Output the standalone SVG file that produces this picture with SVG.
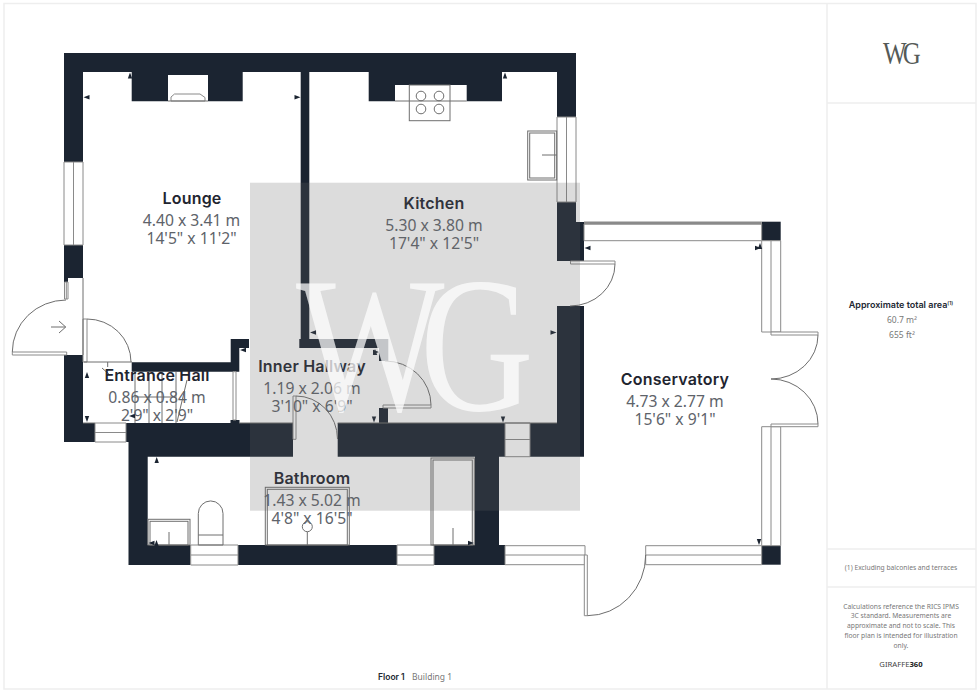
<svg xmlns="http://www.w3.org/2000/svg" width="980" height="693" viewBox="0 0 980 693">
<style>
.wall{fill:#1b2431}
.win{fill:#fff;stroke:#8a8a8a;stroke-width:1}
.ln{fill:none;stroke:#6e6e6e;stroke-width:1}
.dbl{fill:#fff;stroke:#8a8a8a;stroke-width:1}
.nm{font-family:"Inter","Liberation Sans",sans-serif;font-weight:600;font-size:16px;letter-spacing:.2px;fill:#1f2530;text-anchor:middle}
.dm{font-family:"Noto Sans","Liberation Sans",sans-serif;font-size:15.7px;fill:#5e636a;text-anchor:middle}
.sm{font-family:"Noto Sans","Liberation Sans",sans-serif;font-size:6.7px;fill:#777;text-anchor:middle}
.b{font-family:"Inter","Liberation Sans",sans-serif;font-weight:600;fill:#222832}
.frame{fill:none;stroke:#eeeeee;stroke-width:1.5}
</style>
<defs>
<path id="t" d="M0 0L6 -2.2V2.2Z" fill="#1b2431"/>
</defs>
<rect width="980" height="693" fill="#fff"/>
<g id="frame">
<rect class="frame" x="4" y="3.500" width="972" height="685.500"/>
<path class="frame" d="M827 3.500V689M827 103H976M827 549H976M827 587H976"/>
</g>
<g id="walls">
<path class="wall" d="M64 53H576V117H557V72H502V101.300H466.700V85H395V101.300H368.700V72H309.300V339H379H388.300V361H379V348H309.300H300.700H299.300V339H300.700V72H242.700V101.300H208V75H168V101.300H131.700V72H83V278H68V282H64Z"/>
<rect class="wall" x="557" y="202" width="19" height="20"/>
<rect class="wall" x="557" y="222" width="27" height="39"/>
<path class="wall" d="M557 306H584V456.700H530V423H557Z"/>
<path class="wall" d="M131.700 362.300H230.700V339H249V348H239.300V371.700H131.700Z"/>
<path class="wall" d="M64 355H83V423H95V442H64Z"/>
<path class="wall" d="M126 423H293V456.700H147.700V545H190.500V565H128.500V442H126Z"/>
<path class="wall" d="M337.700 423H505V456.700H499V545H505V565H434V545H475V456.700H337.700Z"/>
<rect class="wall" x="379" y="408" width="9" height="15"/>
<rect class="wall" x="238" y="545" width="159" height="20"/>
<rect class="wall" x="761.700" y="221.700" width="19" height="19"/>
<rect class="wall" x="761.700" y="545.700" width="19" height="19"/>
<rect class="wall" x="230.500" y="420" width="9" height="3"/>
</g>
<g id="windows">
<path class="win" d="M64 162H83V245H64ZM73.500 162V245"/>
<path class="win" d="M64.500 282H68V299H64.500ZM66.300 282V299"/>
<path class="win" d="M95 423H126V442H95ZM95 432.500H126"/>
<path class="win" d="M557 117H576V202H557ZM566.500 117V202"/>
<path class="win" d="M505 423H530V456.700H505ZM505 439.500H530"/>
<path class="win" d="M190.700 545H238V565H190.700ZM190.700 555H238"/>
<path class="win" d="M397 545H434V565H397ZM397 555H434"/>
<path class="win" d="M505 545.700H585V564.700H505ZM505 555H585"/>
<path class="win" d="M645.700 545.700H761.700V564.700H645.700ZM645.700 555H761.700"/>
<path class="win" d="M584 224H761.700V240.700H584Z"/>
<path d="M584 223H761.700" fill="none" stroke="#8a8a8a" stroke-width="3"/>
<path class="win" d="M761.700 240.700H780.700V332H761.700ZM771 240.700V332"/>
<path class="win" d="M761.700 426.700H780.700V545.700H761.700ZM771 426.700V545.700"/>
</g>
<g id="doors">
<path class="dbl" d="M12.300 352H66.700V355H12.300Z"/>
<path class="ln" d="M12.300 352A54 52 0 0 1 66 300"/>
<path class="ln" d="M51 327H65.700M59 321L65.700 327L59 333"/>
<path class="dbl" d="M83 319H87V362H83Z"/>
<path class="ln" d="M87 319A44 43 0 0 1 131 362"/>
<path class="dbl" d="M383 405H431V408H383Z"/>
<path class="ln" d="M431 405A46 44 0 0 0 385 361"/>
<path class="dbl" d="M293 396H296V439.300H293Z"/>
<path class="ln" d="M296 396A41.500 43 0 0 1 337.500 439"/>
<path class="dbl" d="M570.500 261H615V264H570.500Z"/>
<path class="ln" d="M615 264A45 42 0 0 1 570 306"/>
<path class="dbl" d="M771 332H818V335H771Z"/>
<path class="ln" d="M818 335A47 44 0 0 1 771 379"/>
<path class="dbl" d="M771 424H818V426.700H771Z"/>
<path class="ln" d="M818 424A47 45 0 0 0 771 379"/>
<path class="dbl" d="M584.300 555H587.300V615.700H584.300Z"/>
<path class="ln" d="M587.300 615.700A58.500 60.700 0 0 0 645.700 555"/>
</g>
<g id="fixtures">
<path d="M171 101V97L174.500 94H200L205 97.500V101Z" fill="#fff" stroke="#8a8a8a"/>
<path class="ln" d="M168 101H208"/>
<path class="ln" d="M395 101H466.700"/>
<rect x="409.300" y="85" width="40.700" height="35.700" class="ln"/>
<circle cx="421" cy="96" r="4.800" class="ln"/><circle cx="439" cy="96" r="4.800" class="ln"/>
<circle cx="421" cy="109" r="4.800" class="ln"/><circle cx="439" cy="109" r="4.800" class="ln"/>
<rect x="527.700" y="131" width="29" height="49" class="ln"/>
<rect x="529.700" y="133" width="25" height="45" class="ln"/>
<path class="ln" d="M542 155H557"/>
<path class="ln" d="M84 362H132M135 372V423M149 372V423M162 372V423M176 372V423M135 397H176M107.700 362V367M102 368L110 375M187 380L177 422"/>
<path class="dbl" d="M233 371.700H236V420H233Z"/>
<path class="ln" d="M83 278V355"/>
<path class="ln" d="M83 423H95M239 423H293M337.700 423H557"/>
<rect x="148" y="519.300" width="42" height="25.700" class="ln"/>
<rect x="150" y="521.300" width="38" height="23.700" class="ln"/>
<path class="ln" d="M169 532V545"/>
<path class="ln" d="M198.300 545V513.500A12.300 12.500 0 0 1 223 513.500V545ZM198.300 535H223"/>
<rect x="265.300" y="487.300" width="84" height="57.700" class="ln"/>
<rect x="267.300" y="489.300" width="80" height="55.700" class="ln"/>
<circle cx="307.300" cy="526.700" r="5" class="ln"/>
<path class="ln" d="M307.300 532V545"/>
<rect x="431" y="458" width="43.300" height="87" class="ln"/>
<rect x="433" y="460" width="39.300" height="85" class="ln"/>
<path class="ln" d="M453 528V545"/>
</g>
<g id="ticks">
<use href="#t" x="83.500" y="97.300"/>
<use href="#t" transform="translate(300.500 97.300) rotate(180)"/>
<use href="#t" transform="translate(130 72.500) rotate(90)"/>
<use href="#t" transform="translate(505 72.500) rotate(90)"/>
<use href="#t" x="310" y="332.500"/>
<use href="#t" transform="translate(556.500 332.500) rotate(180)"/>
<use href="#t" x="584.500" y="248"/>
<use href="#t" transform="translate(760 243) rotate(90)"/>
<use href="#t" transform="translate(761 248) rotate(180)"/>
<use href="#t" transform="translate(759 545) rotate(-90)"/>
<use href="#t" transform="translate(379 352) rotate(180)"/>
<use href="#t" transform="translate(375 349) rotate(90)"/>
<use href="#t" transform="translate(374 422.500) rotate(-90)"/>
<use href="#t" transform="translate(503 422.500) rotate(-90)"/>
<use href="#t" transform="translate(156.700 457) rotate(90)"/>
<use href="#t" x="148.500" y="543"/>
<use href="#t" transform="translate(156.500 540) rotate(90)"/>
<use href="#t" transform="translate(474 543) rotate(180)"/>
<use href="#t" transform="translate(87 372) rotate(90)"/>
<use href="#t" transform="translate(87 422) rotate(-90)"/>
<use href="#t" x="129" y="416"/>
<use href="#t" x="240" y="350"/>
</g>
<g id="labels">
<g id="lounge"><text class="nm" x="192" y="204">Lounge</text><text class="dm" x="191.500" y="226">4.40 x 3.41 m</text><text class="dm" x="191.500" y="244">14'5" x 11'2"</text></g>
<g id="kitchen"><text class="nm" x="434" y="209">Kitchen</text><text class="dm" x="434" y="231">5.30 x 3.80 m</text><text class="dm" x="434" y="249">17'4" x 12'5"</text></g>
<g id="entrance-hall"><text class="nm" x="157" y="381">Entrance Hall</text><text class="dm" x="157" y="403">0.86 x 0.84 m</text><text class="dm" x="157" y="421">2'9" x 2'9"</text></g>
<g id="inner-hallway"><text class="nm" x="312" y="372">Inner Hallway</text><text class="dm" x="312" y="394">1.19 x 2.06 m</text><text class="dm" x="312" y="412">3'10" x 6'9"</text></g>
<g id="bathroom"><text class="nm" x="312" y="484">Bathroom</text><text class="dm" x="312" y="506">1.43 x 5.02 m</text><text class="dm" x="312" y="524">4'8" x 16'5"</text></g>
<g id="conservatory"><text class="nm" x="675" y="385">Conservatory</text><text class="dm" x="675" y="407">4.73 x 2.77 m</text><text class="dm" x="675" y="425">15'6" x 9'1"</text></g>
</g>
<g id="watermark">
<rect x="250" y="182.700" width="330" height="328" fill="#686868" fill-opacity=".23"/>
<text transform="translate(296 410) scale(.82 1)" font-family="Liberation Serif,serif" font-size="192" letter-spacing="-30" fill="#fff" fill-opacity=".72">WG</text>
</g>
<g id="panel">
<text transform="translate(883 64) scale(.78 1)" font-family="Liberation Serif,serif" font-size="32" fill="#555a57" letter-spacing="-5">WG</text>
<text class="b" x="901" y="308" font-size="9" text-anchor="middle">Approximate total area<tspan font-size="5" dy="-3">(1)</tspan></text>
<text class="sm" x="902" y="323" style="font-size:8.500px">60.7 m²</text>
<text class="sm" x="902" y="338" style="font-size:8.500px">655 ft²</text>
<text class="sm" x="901" y="570">(1) Excluding balconies and terraces</text>
<text class="sm" x="901" y="608.500">Calculations reference the RICS IPMS</text>
<text class="sm" x="901" y="618">3C standard. Measurements are</text>
<text class="sm" x="901" y="628">approximate and not to scale. This</text>
<text class="sm" x="901" y="637.500">floor plan is intended for illustration</text>
<text class="sm" x="901" y="647.500">only.</text>
<text class="sm" x="901" y="667" style="font-size:7.700px;fill:#444">GIRAFFE<tspan font-weight="700" fill="#222">360</tspan></text>
<text class="b" x="378" y="680" font-size="8.500">Floor 1</text>
<text class="sm" x="412" y="680" style="text-anchor:start;font-size:8.500px">Building 1</text>
</g>
</svg>
